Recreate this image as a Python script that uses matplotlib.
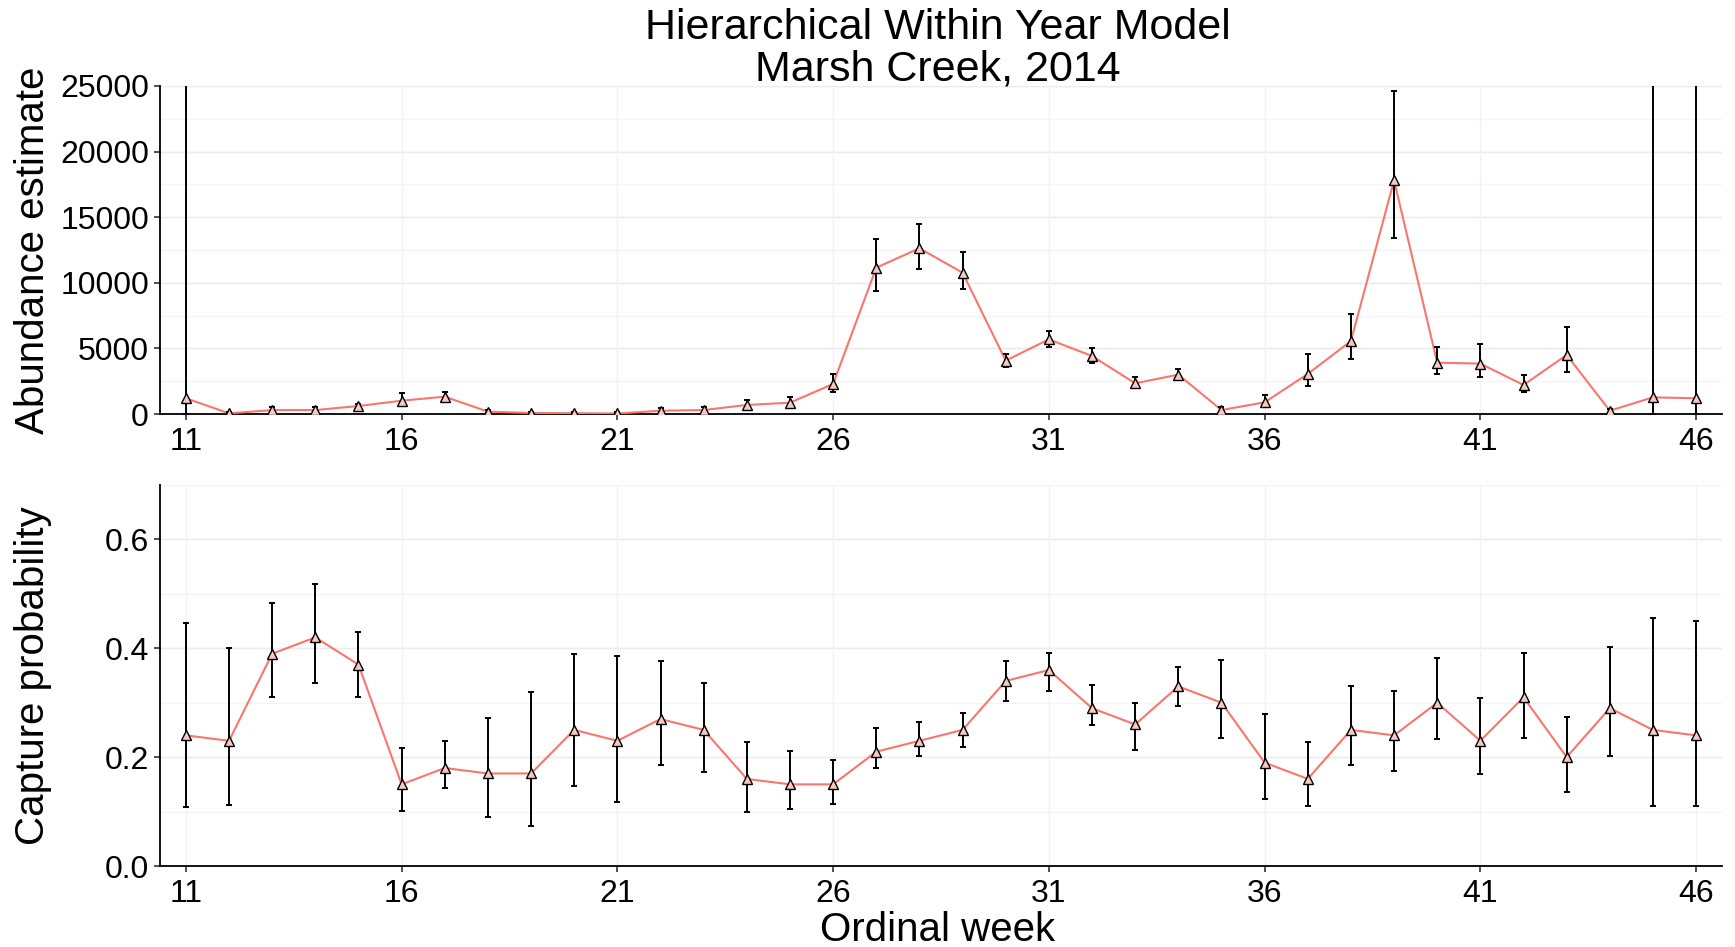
import numpy as np
import matplotlib.pyplot as plt

plt.rcParams['font.family'] = ['Liberation Sans', 'DejaVu Sans']

# ordinal weeks
weeks = np.arange(11, 47)

# abundance estimate, with lower / upper interval
abund = [1200, 50, 300, 300, 610, 1015, 1320, 180, 80, 60,
         40, 250, 300, 690, 860, 2290, 11150, 12630, 10770, 4070,
         5690, 4420, 2340, 3000, 300, 890, 3050, 5560, 17810, 3910,
         3840, 2210, 4500, 250, 1270, 1200]
abund_lo = [0, 10, 150, 150, 450, 690, 1000, 80, 20, 10,
            5, 120, 160, 450, 560, 1650, 9400, 11080, 9530, 3610,
            5080, 3860, 1960, 2690, 150, 560, 2130, 4220, 13410, 3050,
            2840, 1700, 3230, 100, 0, 0]
abund_hi = [60000, 150, 550, 550, 800, 1575, 1650, 320, 180, 150,
            120, 450, 500, 1060, 1320, 3050, 13360, 14510, 12350, 4550,
            6330, 5030, 2840, 3430, 500, 1450, 4570, 7600, 24620, 5130,
            5360, 2950, 6630, 400, 60000, 60000]

# capture probability, with lower / upper interval
cap = [0.24, 0.23, 0.39, 0.42, 0.37, 0.15, 0.18, 0.17, 0.17, 0.25,
       0.23, 0.27, 0.25, 0.16, 0.15, 0.15, 0.21, 0.23, 0.25, 0.34,
       0.36, 0.29, 0.26, 0.33, 0.30, 0.19, 0.16, 0.25, 0.24, 0.30,
       0.23, 0.31, 0.20, 0.29, 0.25, 0.24]
cap_lo = [0.109, 0.112, 0.31, 0.336, 0.31, 0.101, 0.144, 0.09, 0.074, 0.147,
          0.117, 0.186, 0.173, 0.10, 0.104, 0.114, 0.18, 0.203, 0.219, 0.304,
          0.321, 0.259, 0.214, 0.294, 0.236, 0.123, 0.11, 0.186, 0.175, 0.233,
          0.169, 0.236, 0.136, 0.203, 0.111, 0.11]
cap_hi = [0.447, 0.40, 0.484, 0.519, 0.43, 0.216, 0.23, 0.271, 0.319, 0.39,
          0.386, 0.377, 0.336, 0.227, 0.212, 0.195, 0.253, 0.265, 0.282, 0.376,
          0.392, 0.332, 0.30, 0.365, 0.379, 0.279, 0.228, 0.33, 0.321, 0.383,
          0.308, 0.391, 0.274, 0.403, 0.455, 0.451]

xticks = [11, 16, 21, 26, 31, 36, 41, 46]

LINE_COL = '#F8766D'
W, H = 1735, 947
fig = plt.figure(figsize=(W / 100, H / 100), dpi=100)

left = 160 / W
width = 1562 / W
ax1 = fig.add_axes([left, 1 - 414 / H, width, 328 / H])
ax2 = fig.add_axes([left, 1 - 866 / H, width, 381 / H])


def draw(ax, y, lo, hi, ylim, major, minor, yticks, ylabels, ylabel):
    y = np.array(y)
    err = [y - np.array(lo), np.array(hi) - y]
    ax.plot(weeks, y, color=LINE_COL, lw=1.5, zorder=3)
    ax.errorbar(weeks, y, yerr=err, fmt='none', ecolor='black', elinewidth=1.4,
                capsize=2, capthick=1.4, zorder=4)
    ax.plot(weeks, y, linestyle='none', marker='^', markersize=7.5,
            markerfacecolor='#f6c9c5', markeredgecolor='black',
            markeredgewidth=1.0, zorder=5)
    ax.set_xlim(10.4, 46.6)
    ax.set_ylim(*ylim)
    # faint grid
    for v in np.arange(ylim[0], ylim[1] + 1e-9, minor):
        ax.axhline(v, color='#f4f4f4', lw=1.0, zorder=0)
    for v in np.arange(ylim[0], ylim[1] + 1e-9, major):
        ax.axhline(v, color='#ececec', lw=1.0, zorder=0)
    for v in xticks:
        ax.axvline(v, color='#f2f2f2', lw=1.0, zorder=0)
    ax.set_xticks(xticks)
    ax.set_xticklabels([str(v) for v in xticks])
    ax.set_yticks(yticks)
    ax.set_yticklabels(ylabels)
    ax.tick_params(axis='both', labelsize=23, length=4, width=1.2,
                   color='#333333', labelcolor='black')
    ax.tick_params(axis='x', pad=5)
    ax.tick_params(axis='y', pad=4)
    for s in ['top', 'right']:
        ax.spines[s].set_visible(False)
    for s in ['left', 'bottom']:
        ax.spines[s].set_linewidth(1.3)
        ax.spines[s].set_color('black')
    ax.set_ylabel(ylabel, fontsize=29)
    ax.yaxis.label.set_verticalalignment('center')
    ax.yaxis.set_label_coords((33 - 160) / 1562, 0.5)


yt1 = [0, 5000, 10000, 15000, 20000, 25000]
draw(ax1, abund, abund_lo, abund_hi, (0, 25000), 5000, 2500,
     yt1, [str(v) for v in yt1], 'Abundance estimate')
yt2 = [0.0, 0.2, 0.4, 0.6]
draw(ax2, cap, cap_lo, cap_hi, (0, 0.7), 0.2, 0.1,
     yt2, ['%.1f' % v for v in yt2], 'Capture probability')

fig.text(left + width / 2 - 0.002, 1 - 930 / H, 'Ordinal week',
         ha='center', va='center', fontsize=29)

fig.text(left + width / 2 - 0.002, 1 - 49 / H,
         'Hierarchical Within Year Model\nMarsh Creek, 2014',
         ha='center', va='center', fontsize=31, linespacing=1.05)

fig.savefig('out.png', dpi=100, facecolor='white')
